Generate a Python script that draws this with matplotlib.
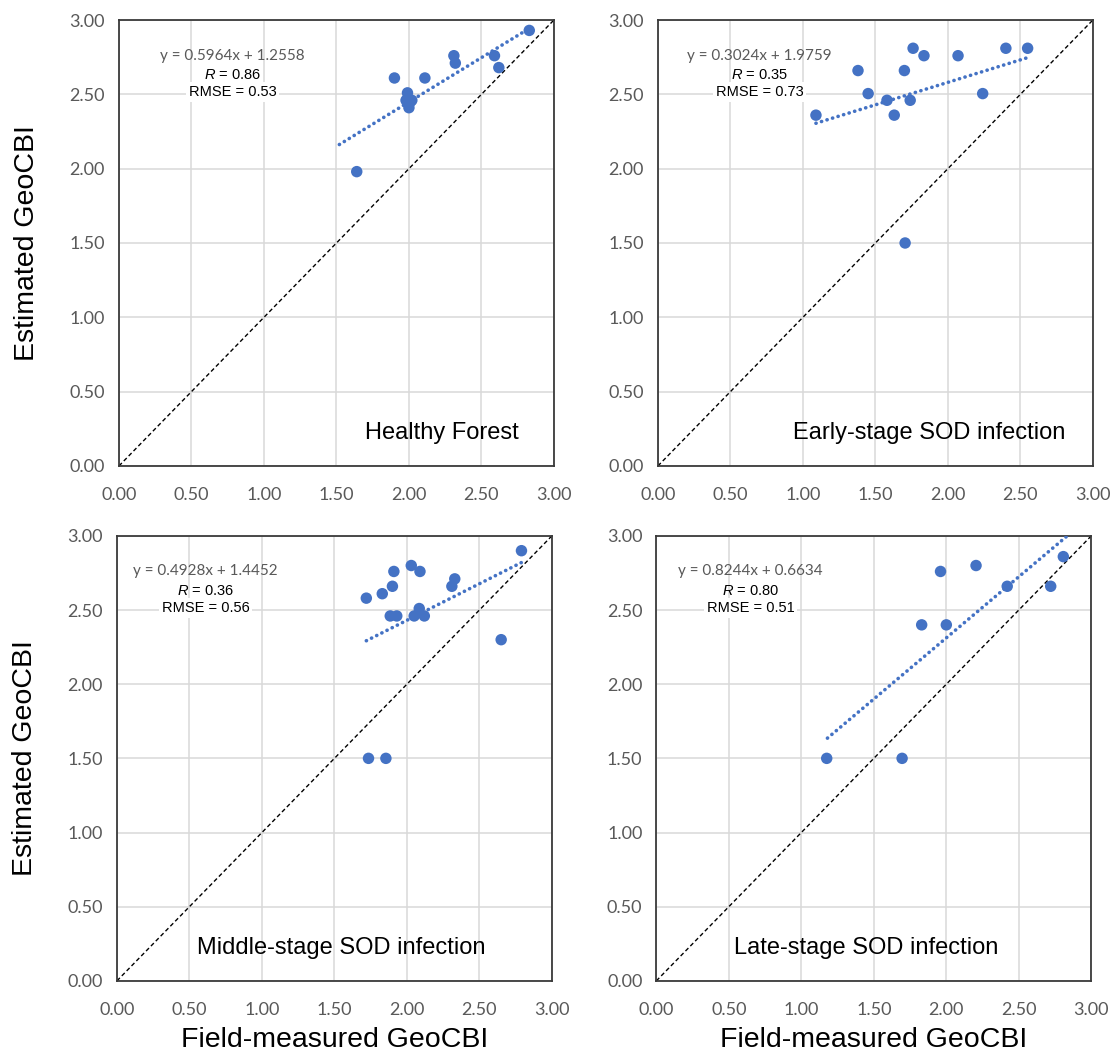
import numpy as np
import matplotlib
matplotlib.use("Agg")
import matplotlib.pyplot as plt

plt.rcParams["mathtext.fontset"] = "custom"
plt.rcParams["mathtext.rm"] = "Liberation Sans"
plt.rcParams["mathtext.it"] = "Liberation Sans:italic"

# values
healthy_x = [2.83, 2.31, 2.32, 2.59, 2.62, 1.90, 2.11, 1.99, 1.98, 2.02, 2.00, 2.01, 1.64]
healthy_y = [2.93, 2.76, 2.71, 2.76, 2.68, 2.61, 2.61, 2.51, 2.46, 2.46, 2.41, 2.45, 1.98]

early_x = [1.76, 1.835, 2.07, 2.40, 2.55, 1.38, 1.70, 1.45, 1.58, 1.74, 1.63, 1.09, 2.24, 1.705]
early_y = [2.81, 2.76, 2.76, 2.81, 2.81, 2.66, 2.66, 2.505, 2.46, 2.46, 2.36, 2.36, 2.505, 1.50]

middle_x = [2.79, 2.03, 2.09, 1.91, 1.90, 2.33, 2.31, 1.72, 1.83, 1.885, 1.93, 2.085,
            2.05, 2.12, 2.65, 1.735, 1.855]
middle_y = [2.90, 2.80, 2.76, 2.76, 2.66, 2.71, 2.66, 2.58, 2.61, 2.46, 2.46, 2.51,
            2.46, 2.46, 2.30, 1.50, 1.50]

late_x = [2.807, 2.205, 1.96, 2.42, 2.72, 1.83, 2.00, 1.175, 1.695]
late_y = [2.86, 2.80, 2.76, 2.66, 2.66, 2.40, 2.40, 1.50, 1.50]

titles = ["Healthy Forest", "Early-stage SOD infection",
          "Middle-stage SOD infection", "Late-stage SOD infection"]
slopes = [0.5964, 0.3024, 0.4928, 0.8244]
intercepts = [1.2558, 1.9759, 1.4452, 0.6634]
r_values = ["0.86", "0.35", "0.36", "0.80"]
rmse_values = ["0.53", "0.73", "0.56", "0.51"]
trend_from = [1.52, 1.09, 1.72, 1.18]
trend_to = [2.83, 2.55, 2.79, 2.834]

blue = "#4472C4"
grey_txt = "#595959"

fig = plt.figure(figsize=(11.17, 10.59), dpi=100)
boxes = [
    [0.1065, 0.560, 0.3894, 0.4211],
    [0.589, 0.560, 0.3894, 0.4211],
    [0.1047, 0.0738, 0.3894, 0.4202],
    [0.5876, 0.0738, 0.3894, 0.4202],
]
all_x = [healthy_x, early_x, middle_x, late_x]
all_y = [healthy_y, early_y, middle_y, late_y]
eq_x = [0.785, 0.70, 0.61, 0.65]
label_x = [2.23, 1.87, 1.55, 1.45]

for i in range(4):
    ax = fig.add_axes(boxes[i])
    ax.set_xlim(0, 3)
    ax.set_ylim(0, 3)
    ticks = np.arange(0, 3.01, 0.5)
    ax.set_xticks(ticks)
    ax.set_yticks(ticks)
    ax.set_xticklabels([f"{t:.2f}" for t in ticks])
    ax.set_yticklabels([f"{t:.2f}" for t in ticks])
    ax.tick_params(length=0, labelsize=13, labelcolor=grey_txt)
    ax.tick_params(axis="x", pad=15)
    ax.tick_params(axis="y", pad=10)
    for lab in ax.get_xticklabels() + ax.get_yticklabels():
        lab.set_family("Lato")
    ax.grid(True, color="#d9d9d9", lw=1.1, zorder=0)
    ax.set_axisbelow(True)
    for sp in ax.spines.values():
        sp.set_color("#3a3a3a")
        sp.set_linewidth(1.3)

    # 1:1 line
    ax.plot([0, 3], [0, 3], color="black", lw=1.0, linestyle=(0, (3, 2)), zorder=2)

    # linear trend
    tx = np.array([trend_from[i], trend_to[i]])
    ax.plot(tx, slopes[i] * tx + intercepts[i], color=blue, lw=2.6,
            linestyle=(0, (0.05, 1.55)), dash_capstyle="round", zorder=3)

    ax.scatter(all_x[i], all_y[i], s=68, color=blue, edgecolors="none", zorder=4)

    ax.text(eq_x[i], 2.76, f"y = {slopes[i]:.4f}x + {intercepts[i]:.4f}",
            ha="center", va="center", fontsize=11, family="Lato", color=grey_txt, zorder=5)
    ax.text(eq_x[i], 2.63, "$\\mathit{R}$ = " + r_values[i], ha="center", va="center",
            fontsize=10.5, family="Liberation Sans", color="black", zorder=5)
    ax.text(eq_x[i], 2.515, "RMSE = " + rmse_values[i], ha="center", va="center",
            fontsize=10.5, family="Liberation Sans", color="black", zorder=5,
            bbox=dict(facecolor="white", edgecolor="none", pad=2))
    ax.text(label_x[i], 0.22, titles[i], ha="center", va="center", fontsize=17,
            family="Liberation Sans", color="black", zorder=5)

    if i % 2 == 0:
        ax.set_ylabel("Estimated GeoCBI", fontsize=20.5, family="Liberation Sans", labelpad=21)
    if i >= 2:
        ax.set_xlabel("Field-measured GeoCBI", fontsize=20.5, family="Liberation Sans", labelpad=7)

fig.savefig("out.png", dpi=100, facecolor="white")
